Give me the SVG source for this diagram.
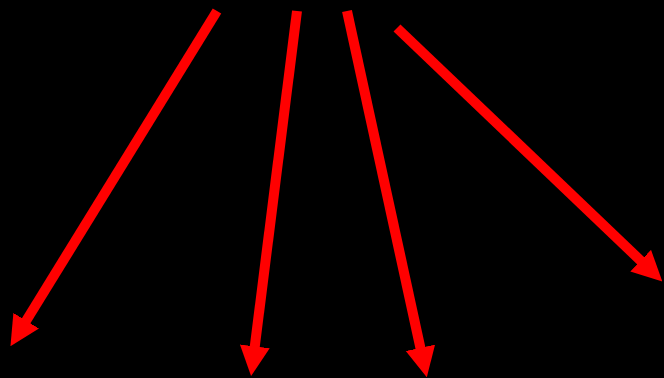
<svg xmlns="http://www.w3.org/2000/svg" width="664" height="378" viewBox="0 0 664 378">
  <defs>
    <style>
      .arrow { stroke: #ff0000; stroke-width: 10; fill: none; stroke-linecap: butt; marker-end: url(#head); }
    </style>
    <marker id="head" viewBox="0 0 10 10" refX="0.3" refY="5" markerWidth="3" markerHeight="3.1" markerUnits="strokeWidth" orient="auto">
      <path d="M0,0 L10,5 L0,10 z" fill="#ff0000"/>
    </marker>
  </defs>
  <rect width="664" height="378" fill="#000000"/>
  <g id="connectors">
    <line class="arrow" x1="217" y1="11" x2="25.7" y2="321.5"/>
    <line class="arrow" x1="297" y1="11" x2="254.7" y2="347.2"/>
    <line class="arrow" x1="347" y1="11" x2="420.6" y2="348.7"/>
    <line class="arrow" x1="397" y1="28" x2="641.3" y2="261.3"/>
  </g>
</svg>
